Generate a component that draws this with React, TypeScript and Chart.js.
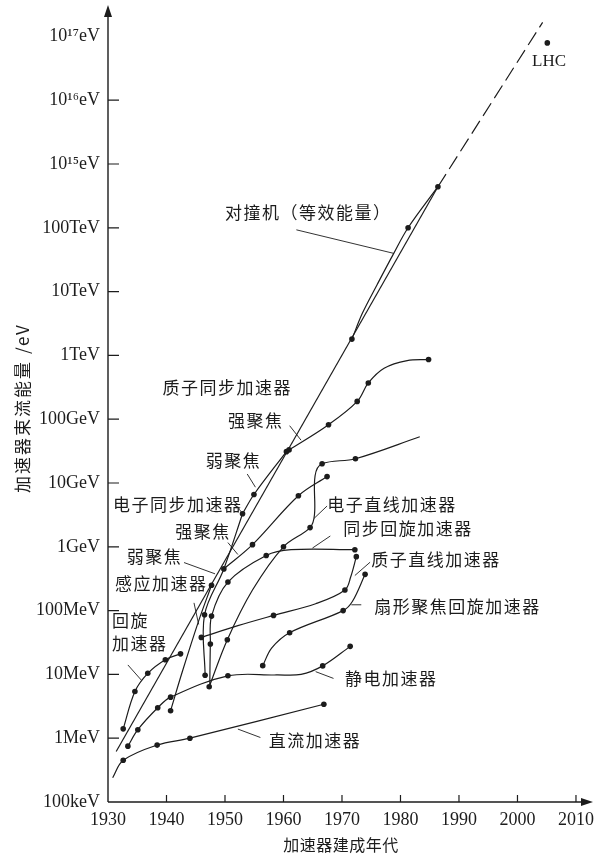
import React, { useEffect, useRef } from "react";
import { Chart, registerables } from "chart.js";

Chart.register(...registerables);

// ---- axes ----
const xTickYears = [1930, 1940, 1950, 1960, 1970, 1980, 1990, 2000, 2010];
const yTickValues = [1e5, 1e6, 1e7, 1e8, 1e9, 1e10, 1e11, 1e12, 1e13, 1e14, 1e15, 1e16, 1e17];
const yTickLabels = ["100keV", "1MeV", "10MeV", "100MeV", "1GeV", "10GeV", "100GeV", "1TeV", "10TeV", "100TeV", "10¹⁵eV", "10¹⁶eV", "10¹⁷eV"];

// ---- curves (year, beam energy in eV, whether a dot is drawn) ----
const dcYears = [1930.8, 1932.6, 1938.4, 1944.0, 1966.9];
const dcEnergy = [2.4e5, 4.5e5, 7.8e5, 1.0e6, 3.4e6];
const dcDots = [false, true, true, true, true];

const esYears = [1933.4, 1935.1, 1938.5, 1940.7, 1950.5, 1958.8, 1963.0, 1966.7, 1971.4];
const esEnergy = [7.5e5, 1.36e6, 3.0e6, 4.4e6, 9.5e6, 9.8e6, 1.0e7, 1.36e7, 2.75e7];
const esDots = [true, true, true, true, true, false, false, true, true];

const cycYears = [1932.6, 1934.6, 1936.8, 1939.8, 1942.4];
const cycEnergy = [1.4e6, 5.4e6, 1.04e7, 1.7e7, 2.1e7];
const cycDots = [true, true, true, true, true];

const betYears = [1940.7, 1942.7, 1945.5, 1947.7];
const betEnergy = [2.7e6, 1.1e7, 6.9e7, 2.5e8];
const betDots = [true, false, false, true];

const elinYears = [1947.3, 1950.4, 1954.7, 1960.0, 1964.55, 1965.3, 1965.4, 1966.6, 1972.3, 1983.3];
const elinEnergy = [6.4e6, 3.5e7, 2.1e8, 1.0e9, 2.0e9, 3.2e9, 1.3e10, 2.0e10, 2.4e10, 5.3e10];
const elinDots = [true, true, false, true, true, false, false, true, true, false];

const scYears = [1947.4, 1947.5, 1947.7, 1950.5, 1957.05, 1961.3, 1972.2];
const scEnergy = [6.9e6, 3.0e7, 8.2e7, 2.8e8, 7.3e8, 9.0e8, 9.0e8];
const scDots = [false, true, true, true, true, false, true];

const esyWeakYears = [1946.6, 1946.5, 1949.8, 1953.0];
const esyWeakEnergy = [9.7e6, 8.6e7, 4.5e8, 3.3e9];
const esyWeakDots = [true, true, true, true];

const esyStrongYears = [1949.8, 1954.7, 1962.55, 1967.45];
const esyStrongEnergy = [4.5e8, 1.08e9, 6.3e9, 1.26e10];
const esyStrongDots = [false, true, true, true];

const psyWeakYears = [1953.0, 1954.95, 1960.5];
const psyWeakEnergy = [3.3e9, 6.6e9, 3.1e10];
const psyWeakDots = [false, true, true];

const psyStrongYears = [1960.95, 1967.7, 1972.6, 1974.5, 1977.2, 1981.15, 1984.8];
const psyStrongEnergy = [3.3e10, 8.2e10, 1.9e11, 3.7e11, 6.3e11, 8.3e11, 8.6e11];
const psyStrongDots = [true, true, true, true, false, false, true];

const plinYears = [1945.95, 1952.2, 1958.3, 1965.5, 1970.5, 1971.5, 1972.45];
const plinEnergy = [3.8e7, 5.8e7, 8.4e7, 1.28e8, 2.1e8, 3.4e8, 7.0e8];
const plinDots = [true, false, true, false, true, false, true];

const sfcYears = [1956.45, 1958.0, 1961.05, 1970.2, 1971.8, 1973.95];
const sfcEnergy = [1.37e7, 2.6e7, 4.5e7, 1.0e8, 1.4e8, 3.7e8];
const sfcDots = [true, false, true, true, false, true];

const colYears = [1971.7, 1973.5, 1976.0, 1978.8, 1981.3, 1986.4];
const colEnergy = [1.8e12, 4.6e12, 1.28e13, 3.9e13, 1.0e14, 4.4e14];
const colDots = [true, false, false, false, true, true];

const trendYears = [1931.4, 1986.4];
const trendEnergy = [6.2e5, 4.4e14];
const trendExtYears = [1986.4, 2004.3];
const trendExtEnergy = [4.4e14, 1.66e17];

const lhcYears = [2005.1];
const lhcEnergy = [7.9e16];

// ---- annotation texts (year, log10 eV of left/middle anchor) ----
const labelTexts = [
  "LHC", "对撞机（等效能量）", "质子同步加速器", "强聚焦", "弱聚焦", "电子同步加速器",
  "强聚焦", "弱聚焦", "感应加速器", "回旋", "加速器", "电子直线加速器",
  "同步回旋加速器", "质子直线加速器", "扇形聚焦回旋加速器", "静电加速器", "直流加速器",
];
const labelYears = [2005.4, 1950.0, 1939.3, 1950.5, 1946.7, 1930.85, 1941.5, 1933.2, 1931.2, 1930.7, 1930.7, 1967.5, 1970.2, 1975.0, 1975.5, 1970.5, 1957.5];
const labelLogE = [16.603, 14.246, 11.493, 10.974, 10.348, 9.656, 9.246, 8.848, 8.424, 7.841, 7.476, 9.656, 9.279, 8.803, 8.061, 6.937, 5.968];

// leader lines: [from, to]
const leaderYears = [
  [1962.2, 1978.8], [1961.05, 1963.0], [1953.8, 1955.2], [1952.4, 1953.0], [1950.5, 1952.2],
  [1943.0, 1948.3], [1944.7, 1945.5], [1933.4, 1935.7], [1967.45, 1965.2], [1968.0, 1964.95],
  [1974.8, 1972.2], [1971.6, 1973.3], [1965.5, 1968.55], [1952.2, 1956.05],
];
const leaderLogE = [
  [13.968, 13.6], [10.898, 10.671], [10.141, 9.934], [9.59, 9.525], [9.066, 8.879],
  [8.753, 8.576], [8.121, 7.783], [7.148, 6.91], [9.639, 9.443], [9.169, 8.98],
  [8.758, 8.55], [8.091, 8.091], [7.043, 6.937], [6.143, 6.011],
];

const INK = "#1c1c1c";
const SERIF = "'Liberation Serif', 'DejaVu Serif', serif";
const CJK = "'Noto Sans CJK SC', 'Noto Sans', sans-serif";

function curve(years: number[], energy: number[], dots: boolean[] | null, extra: any = {}) {
  return {
    data: years.map((x, i) => ({ x, y: energy[i] })),
    borderColor: INK,
    borderWidth: 1.2,
    backgroundColor: INK,
    pointBackgroundColor: INK,
    pointBorderWidth: 0,
    pointRadius: (c: any) => (dots && dots[c.dataIndex] ? 2.8 : 0),
    pointHoverRadius: 0,
    tension: 0.35,
    fill: false,
    ...extra,
  };
}

const overlay = {
  id: "overlay",
  afterDraw(chart: any) {
    const { ctx, chartArea } = chart;
    const xs = chart.scales.x;
    const ys = chart.scales.y;
    const L = chartArea.left;
    const B = chartArea.bottom;
    ctx.save();
    ctx.strokeStyle = INK;
    ctx.fillStyle = INK;
    ctx.lineWidth = 1.4;
    // axes
    ctx.beginPath();
    ctx.moveTo(L, B);
    ctx.lineTo(L, 14);
    ctx.moveTo(L, B);
    ctx.lineTo(585, B);
    ctx.stroke();
    // arrows
    ctx.beginPath();
    ctx.moveTo(L, 5);
    ctx.lineTo(L - 4, 17);
    ctx.lineTo(L + 4, 17);
    ctx.closePath();
    ctx.fill();
    ctx.beginPath();
    ctx.moveTo(593, B);
    ctx.lineTo(581, B - 4);
    ctx.lineTo(581, B + 4);
    ctx.closePath();
    ctx.fill();
    // inward ticks
    ctx.lineWidth = 1.2;
    ctx.beginPath();
    yTickValues.forEach((v, i) => {
      if (i === 0 || i === yTickValues.length - 1) return;
      const py = ys.getPixelForValue(v);
      ctx.moveTo(L, py);
      ctx.lineTo(L + 11, py);
    });
    xTickYears.forEach((v, i) => {
      if (i === 0) return;
      const px = xs.getPixelForValue(v);
      ctx.moveTo(px, B);
      ctx.lineTo(px, B - 7);
    });
    ctx.stroke();

    // leader lines
    ctx.lineWidth = 0.9;
    ctx.beginPath();
    leaderYears.forEach((yr, i) => {
      ctx.moveTo(xs.getPixelForValue(yr[0]), ys.getPixelForValue(Math.pow(10, leaderLogE[i][0])));
      ctx.lineTo(xs.getPixelForValue(yr[1]), ys.getPixelForValue(Math.pow(10, leaderLogE[i][1])));
    });
    ctx.stroke();

    // labels
    ctx.textBaseline = "middle";
    labelTexts.forEach((t, i) => {
      const px = xs.getPixelForValue(labelYears[i]);
      const py = ys.getPixelForValue(Math.pow(10, labelLogE[i]));
      if (t === "LHC") {
        ctx.font = `17px ${SERIF}`;
        (ctx as any).letterSpacing = "0px";
        ctx.textAlign = "center";
      } else {
        ctx.font = `17px ${CJK}`;
        (ctx as any).letterSpacing = "1.5px";
        ctx.textAlign = "left";
      }
      ctx.fillText(t, px, py);
    });

    // axis titles
    ctx.font = `16px ${CJK}`;
    (ctx as any).letterSpacing = "0.5px";
    ctx.textAlign = "center";
    ctx.fillText("加速器建成年代", 341, 845);
    ctx.save();
    ctx.translate(23, 408);
    ctx.rotate(-Math.PI / 2);
    ctx.font = `17px ${CJK}`;
    (ctx as any).letterSpacing = "2px";
    ctx.fillText("加速器束流能量 /eV", 0, 0);
    ctx.restore();
    (ctx as any).letterSpacing = "0px";
    ctx.restore();
  },
};

export default function App() {
  const ref = useRef<HTMLCanvasElement | null>(null);
  useEffect(() => {
    const canvas = ref.current;
    if (!canvas) return;
    const datasets: any[] = [
      curve(trendYears, trendEnergy, null, { tension: 0, borderWidth: 1.2 }),
      curve(trendExtYears, trendExtEnergy, null, { tension: 0, borderWidth: 1.2, borderDash: [15, 6] }),
      curve(dcYears, dcEnergy, dcDots),
      curve(esYears, esEnergy, esDots),
      curve(cycYears, cycEnergy, cycDots),
      curve(betYears, betEnergy, betDots),
      curve(elinYears, elinEnergy, elinDots),
      curve(scYears, scEnergy, scDots),
      curve(esyWeakYears, esyWeakEnergy, esyWeakDots),
      curve(esyStrongYears, esyStrongEnergy, esyStrongDots),
      curve(psyWeakYears, psyWeakEnergy, psyWeakDots),
      curve(psyStrongYears, psyStrongEnergy, psyStrongDots),
      curve(plinYears, plinEnergy, plinDots),
      curve(sfcYears, sfcEnergy, sfcDots),
      curve(colYears, colEnergy, colDots),
      curve(lhcYears, lhcEnergy, [true], { showLine: false }),
    ];
    const chart = new Chart(canvas, {
      type: "line",
      data: { datasets },
      options: {
        animation: false,
        responsive: false,
        devicePixelRatio: 1,
        layout: { padding: { left: 0, right: 3.4, top: 12, bottom: 0 } },
        plugins: { legend: { display: false }, tooltip: { enabled: false } },
        scales: {
          x: {
            type: "linear",
            min: 1930,
            max: 2012.5,
            afterBuildTicks: (s: any) => {
              s.ticks = xTickYears.map((v) => ({ value: v }));
            },
            afterFit: (s: any) => {
              s.height = 58;
              s.paddingLeft = 0;
              s.paddingRight = 0;
            },
            grid: { display: false, drawTicks: false },
            border: { display: false },
            ticks: {
              padding: 7,
              autoSkip: false,
              maxRotation: 0,
              color: INK,
              font: { family: SERIF, size: 18 },
              callback: (v: any) => String(v),
            },
          },
          y: {
            type: "logarithmic",
            min: 1e5,
            max: 2.41e17,
            afterBuildTicks: (s: any) => {
              s.ticks = yTickValues.map((v) => ({ value: v }));
            },
            afterFit: (s: any) => {
              s.width = 108;
              s.paddingTop = 0;
              s.paddingBottom = 0;
            },
            grid: { display: false, drawTicks: false },
            border: { display: false },
            ticks: {
              padding: 8,
              autoSkip: false,
              color: INK,
              font: { family: SERIF, size: 18 },
              callback: (_v: any, i: number) => yTickLabels[i],
            },
          },
        },
      } as any,
      plugins: [overlay],
    });
    return () => chart.destroy();
  }, []);
  return (
    <div style={{ position: "absolute", left: 0, top: 0, width: 594, height: 860, background: "#fff" }}>
      <canvas ref={ref} width={594} height={860} style={{ width: 594, height: 860, display: "block" }} />
    </div>
  );
}
